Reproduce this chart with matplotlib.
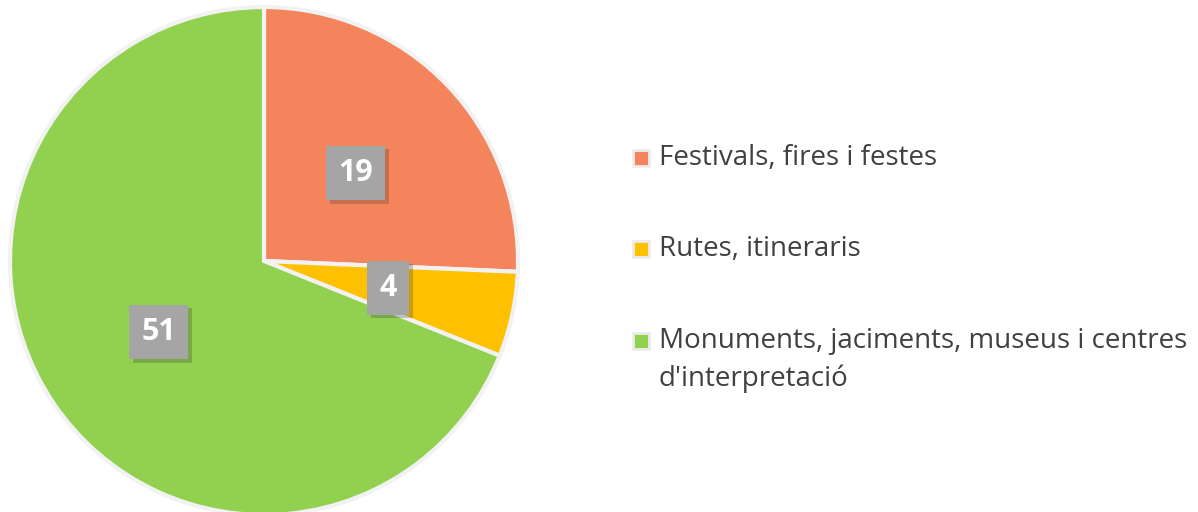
import matplotlib.pyplot as plt
import matplotlib.patheffects as pe

categories = ['Festivals, fires i festes', 'Rutes, itineraris',
              "Monuments, jaciments, museus i centres\nd'interpretació"]
values = [19, 4, 51]
colors = ['#f4845b', '#ffc000', '#92d050']

plt.rcParams['font.family'] = ['Open Sans', 'DejaVu Sans']

fig = plt.figure(figsize=(11.98, 5.12), dpi=100)
ax = fig.add_axes([0, 0, 1, 1])

total = sum(values)
wedges, _, autotexts = ax.pie(
    values, colors=colors, startangle=90, counterclock=False,
    center=(264, 251), radius=254, frame=True,
    autopct=lambda p: f'{round(p * total / 100)}', pctdistance=0.5,
    wedgeprops=dict(edgecolor='#f2f2f2', linewidth=3),
    textprops=dict(color='white', fontsize=22, fontweight='bold'))
ax.set_xlim(0, 1198)
ax.set_ylim(0, 512)
ax.set_aspect('equal')
ax.axis('off')

for t in autotexts:
    t.set_bbox(dict(boxstyle='square,pad=0.4', facecolor='#a5a5a5',
                    edgecolor='none',
                    path_effects=[pe.SimplePatchShadow(offset=(2.5, -2.5), alpha=0.25),
                                  pe.Normal()]))

# legend drawn by hand so the wrapped label keeps its marker on the first line
legend_y = [512 - 158, 512 - 249, 512 - 341]
for y, c, lab in zip(legend_y, colors, categories):
    ax.plot(641, y, marker='s', markersize=11, color=c,
            markeredgecolor='#ececec', markeredgewidth=2)
    ax.text(659, y + 14, lab, fontsize=20, color='#404040',
            va='top', ha='left', linespacing=1.45)

fig.savefig('out.png', dpi=100)
